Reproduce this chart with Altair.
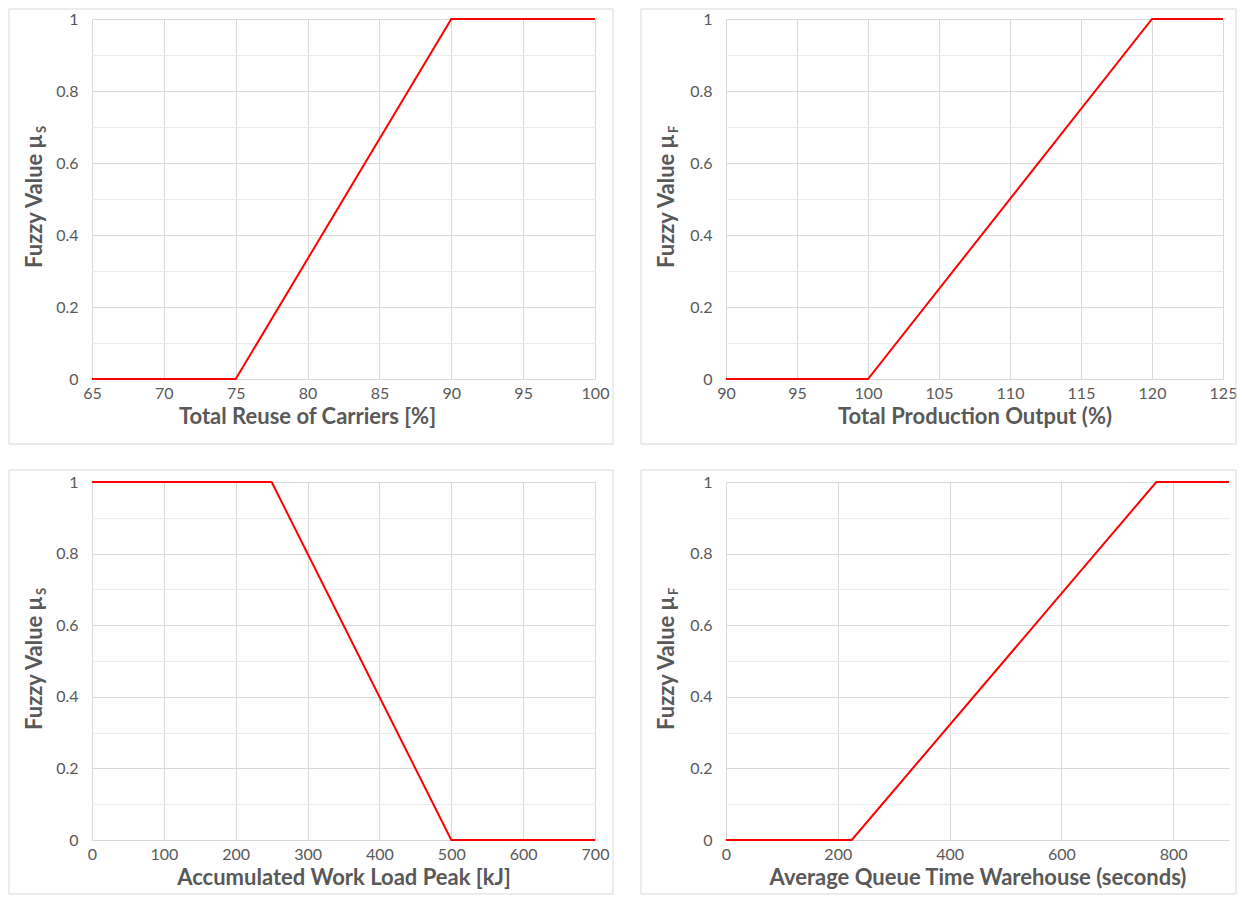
import altair as alt
import pandas as pd

# ---- data ----
reuse_x = [65, 75, 90, 100]
reuse_y = [0, 0, 1, 1]
prod_x = [90, 100, 120, 125]
prod_y = [0, 0, 1, 1]
work_x = [0, 250, 500, 700]
work_y = [1, 1, 0, 0]
queue_x = [0, 225, 770, 900]
queue_y = [0, 0, 1, 1]

y_ticks = [0, 0.1, 0.2, 0.3, 0.4, 0.5, 0.6, 0.7, 0.8, 0.9, 1]

FONT = "Lato"
TXT = "#595959"
GRID = "#d9d9d9"
GRID_MINOR = "#ebebeb"


def panel(xs, ys, xdomain, xticks, xtitle, sub, W, H, fl, fr, ft, fb, tx, title_x=None):
    df = pd.DataFrame({"x": xs, "y": ys})
    xaxis_kw = dict(values=xticks, title=xtitle, domain=False, ticks=False,
                    labelFont=FONT, labelFontSize=16, labelColor=TXT,
                    labelPadding=6, titleFont=FONT, titleFontSize=22,
                    titleFontWeight="bold", titleColor=TXT, titlePadding=5,
                    gridColor=GRID, labelFlush=False)
    if title_x is not None:
        xaxis_kw["titleX"] = title_x
    line = alt.Chart(df).mark_line(color="#ff0000", strokeWidth=2, clip=False).encode(
        x=alt.X("x:Q",
                scale=alt.Scale(domain=xdomain, nice=False, zero=False),
                axis=alt.Axis(**xaxis_kw)),
        y=alt.Y("y:Q",
                scale=alt.Scale(domain=[0, 1], nice=False),
                axis=alt.Axis(values=y_ticks, title=None, domain=False, ticks=False,
                              labelExpr="round(datum.value*10) % 2 == 0 ? format(datum.value, '~g') : ''",
                              labelFont=FONT, labelFontSize=16, labelColor=TXT,
                              labelPadding=14, labelFlush=False,
                              gridColor={"condition": {"test": "round(datum.value*10) % 2 == 1",
                                                       "value": GRID_MINOR},
                                         "value": GRID})),
    ).properties(width=W, height=H)

    one = pd.DataFrame({"a": [0]})
    frame = alt.Chart(one).mark_rect(fill="transparent", stroke="#d9d9d9", strokeWidth=1).encode(
        x=alt.value(-fl), x2=alt.value(W + fr), y=alt.value(-ft), y2=alt.value(H + fb))
    tmain = alt.Chart(one).mark_text(text="Fuzzy Value \u03bc", angle=270, align="right",
                                     baseline="alphabetic", font=FONT, fontSize=22,
                                     fontWeight="bold", color=TXT).encode(
        x=alt.value(tx), y=alt.value(H / 2 - 64))
    tsub = alt.Chart(one).mark_text(text=sub, angle=270, align="left",
                                    baseline="alphabetic", font=FONT, fontSize=13,
                                    fontWeight="bold", color=TXT).encode(
        x=alt.value(tx + 4), y=alt.value(H / 2 - 66))
    return alt.layer(frame, line, tmain, tsub)


p1 = panel(reuse_x, reuse_y, [65, 100], list(range(65, 101, 5)),
           "Total Reuse of Carriers [%]", "S", 503, 360, 83, 18, 10, 65, -50, title_x=215)
p2 = panel(prod_x, prod_y, [90, 125], list(range(90, 126, 5)),
           "Total Production Output (%)", "F", 497, 360, 85, 13, 10, 65, -52)
p3 = panel(work_x, work_y, [0, 700], list(range(0, 701, 100)),
           "Accumulated Work Load Peak [kJ]", "S", 503, 358, 83, 18, 12, 54, -50)
p4 = panel(queue_x, queue_y, [0, 900], [0, 200, 400, 600, 800],
           "Average Queue Time Warehouse (seconds)", "F", 503, 358, 85, 7, 12, 54, -52)

chart = alt.vconcat(
    alt.hconcat(p1, p2, spacing=26),
    alt.hconcat(p3, p4, spacing=26),
    spacing=24,
).properties(padding=0, background="white").configure_view(stroke=None)

chart.save("out.html", embed_options={"renderer": "svg", "actions": False})
